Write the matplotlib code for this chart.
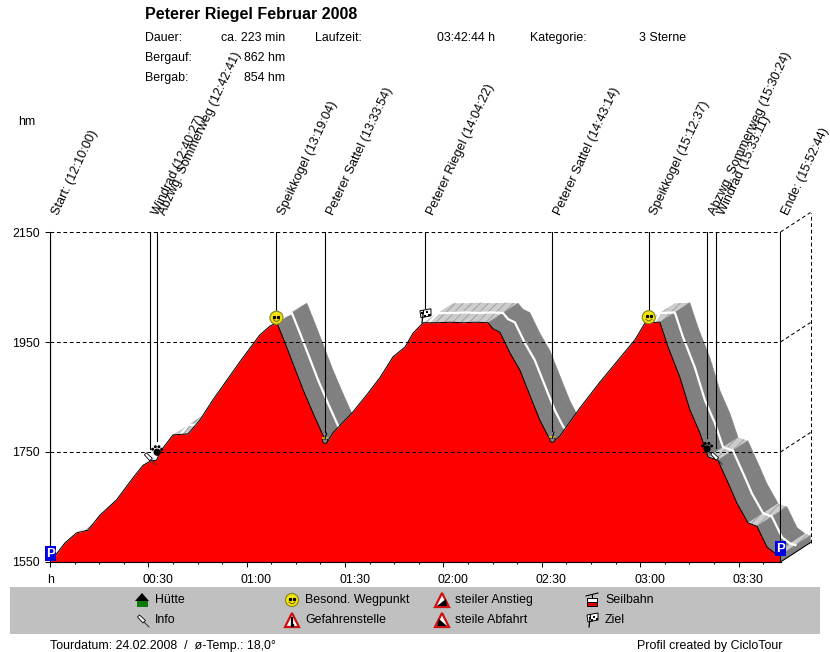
import matplotlib
matplotlib.use("Agg")
import matplotlib.pyplot as plt
import matplotlib.transforms as mtrans
from matplotlib.patches import Circle, Polygon, Rectangle

plt.rcParams['font.family'] = ['Liberation Sans', 'DejaVu Sans']
plt.rcParams['hatch.linewidth'] = 0.7

# ---- data ----
title = "Peterer Riegel Februar 2008"

# elevation profile: minutes since start, height in hm
profile_min = [0, 1.5, 4.6, 8.1, 11.6, 15.2, 20.3, 25.3, 28.4, 30.8, 32.5, 33.5, 37.5, 42.1, 45.7, 49.7,
               57.9, 64, 67.1, 69.2, 71.7, 73.7, 77.2, 80.2, 82.9, 84.4, 86.3, 92.4, 96.6, 100.6, 104.6,
               108.3, 110.7, 113.8, 118, 122, 126, 130, 133.6, 135.1, 137.2, 140.3, 143.3, 147.3, 149.4,
               151.9, 153.4, 155.5, 161.6, 167.7, 173.8, 178.4, 181.5, 186, 188.5, 192.1, 195.2, 198.2,
               200.7, 203.7, 207.4, 209.5, 212.9, 215.6, 218.7, 221.1, 222.8]
profile_hm = [1559, 1561, 1585, 1603, 1608, 1635, 1663, 1703, 1726, 1734, 1735, 1750, 1781, 1783, 1808, 1845,
              1914, 1963, 1979, 1985, 1948, 1917, 1863, 1821, 1785, 1766, 1785, 1823, 1854, 1885, 1923,
              1941, 1966, 1985, 1985, 1986, 1985, 1986, 1985, 1974, 1968, 1930, 1899, 1839, 1808,
              1779, 1768, 1779, 1830, 1877, 1921, 1954, 1985, 1986, 1941, 1886, 1826, 1785,
              1741, 1735, 1686, 1657, 1621, 1615, 1577, 1566, 1563]

# waypoints
way_names = ["Start:", "Windrad", "Abzwg. Sommerweg", "Speikkogel", "Peterer Sattel", "Peterer Riegel",
             "Peterer Sattel", "Speikkogel", "Abzwg. Sommerweg", "Windrad", "Ende:"]
way_clock = ["12:10:00", "12:40:27", "12:42:41", "13:19:04", "13:33:54", "14:04:22",
             "14:43:14", "15:12:37", "15:30:24", "15:33:11", "15:52:44"]
way_min = [0, 30.45, 32.68, 69.07, 83.9, 114.37, 153.23, 182.62, 200.4, 203.18, 222.73]
way_hm = [1559, 1734, 1735, 1985, 1766, 1985, 1768, 1986, 1741, 1735, 1563]
way_icon = ["park", "pin", "paw", "smile", "saddle", "flag", "saddle", "smile", "paw", "pin", "park"]

x_ticks = [0, 30, 60, 90, 120, 150, 180, 210]
x_labels = ["h", "00:30", "01:00", "01:30", "02:00", "02:30", "03:00", "03:30"]
y_ticks = [1550, 1750, 1950, 2150]

legend_names = ["Hütte", "Info", "Besond. Wegpunkt", "Gefahrenstelle",
                "steiler Anstieg", "steile Abfahrt", "Seilbahn", "Ziel"]
legend_icons = ["hut", "pin", "smile", "danger", "up", "down", "cable", "flag"]

W, H = 830, 652
fig = plt.figure(figsize=(W / 100, H / 100), dpi=100, facecolor='white')

# main plot, placed on the pixel box of the original
L, R, T, B = 50, 780.5, 232, 562
ax = fig.add_axes([L / W, 1 - B / H, (R - L) / W, (B - T) / H])
ax.set_xlim(0, 222.8)
ax.set_ylim(1550, 2150)
ax.patch.set_alpha(0)
for s in ['top', 'right']:
    ax.spines[s].set_visible(False)
for s in ['left', 'bottom']:
    ax.spines[s].set_linewidth(0.8)
    ax.spines[s].set_zorder(8)

# overlay in pixel coordinates for texts and icons
ov = fig.add_axes([0, 0, 1, 1], zorder=5)
ov.set_xlim(0, W)
ov.set_ylim(H, 0)
ov.axis('off')
ov.patch.set_alpha(0)

# depth of the 3D look, converted to data units
px_x = (R - L) / 222.8
px_y = (B - T) / 600
dx = 30 / px_x
dy = 19.5 / px_y

# ---- extruded band behind the profile ----
for i in range(len(profile_min) - 1):
    x0, x1 = profile_min[i], profile_min[i + 1]
    y0, y1 = profile_hm[i], profile_hm[i + 1]
    slope = (y1 - y0) * px_y / ((x1 - x0) * px_x)
    quad = [(x0, y0), (x1, y1), (x1 + dx, y1 + dy), (x0 + dx, y0 + dy)]
    if slope < -0.45:
        ax.add_patch(Polygon(quad, closed=True, fc='#808080', ec='#808080', lw=0.4, zorder=1, clip_on=False))
    else:
        # flat parts look striped in the original
        ax.add_patch(Polygon(quad, closed=True, fc='#cccccc', ec='#a0a0a0', lw=0, hatch='////',
                             zorder=1, clip_on=False))
# end face
ax.add_patch(Polygon([(profile_min[-1], 1550), (profile_min[-1] + dx, 1550 + dy),
                      (profile_min[-1] + dx, profile_hm[-1] + dy), (profile_min[-1], profile_hm[-1])],
                     closed=True, fc='#808080', ec='#808080', lw=0.4, zorder=1, clip_on=False))
# white middle line
ax.plot([m + dx / 2 for m in profile_min], [h + dy / 2 for h in profile_hm],
        color='white', lw=1.6, zorder=2, clip_on=False)

# ---- red profile ----
ax.fill_between(profile_min, profile_hm, 1550, color='#ff0000', lw=0, zorder=3)
ax.plot(profile_min, profile_hm, color='black', lw=0.7, zorder=4)

# ---- grid and side wall ----
dash = (0, (3.6, 2.6))
for y in y_ticks[1:]:
    ax.plot([0, 222.8], [y, y], color='black', lw=0.75, ls=dash, zorder=6)
    ax.plot([222.8, 222.8 + dx], [y, y + dy], color='black', lw=0.75, ls=dash, zorder=6, clip_on=False)
ax.plot([222.8 + dx] * 2, [1550 + dy, 2150 + dy], color='black', lw=0.75, ls=dash, zorder=6, clip_on=False)
ax.plot([222.8, 222.8 + dx], [1550, 1550 + dy], color='black', lw=0.75, zorder=6, clip_on=False)

# ---- axes ticks ----
ax.set_xticks(x_ticks)
ax.set_xticklabels(x_labels, fontsize=8.9)
ax.set_xticks([t * 7.5 for t in range(30) if t * 7.5 <= 222.8 and t % 4], minor=True)
ax.set_yticks(y_ticks)
ax.tick_params(axis='x', which='major', length=4.5 * 0.72, width=0.7, pad=5.5)
ax.tick_params(axis='x', which='minor', length=2.5 * 0.72, width=0.7)
ax.tick_params(axis='y', length=5 * 0.72, width=0.7, labelsize=8.9, pad=3.6)
shift = mtrans.ScaledTranslation(-6 / 100, 0, fig.dpi_scale_trans)
for lab in ax.get_xticklabels():
    lab.set_ha('left')
    lab.set_transform(lab.get_transform() + shift)
ax.get_xticklabels()[0].set_transform(ax.get_xticklabels()[0].get_transform()
                                      + mtrans.ScaledTranslation(3 / 100, 0, fig.dpi_scale_trans))


# ---- icons, drawn in pixel coordinates ----
def to_px(m, h):
    xd, yd = ax.transData.transform((m, h))
    return xd, H - yd


def icon_smile(x, y):
    ov.add_patch(Circle((x, y), 6.5, fc='#f6e60a', ec='#8a8a20', lw=0.9))
    ov.plot([x - 2, x + 2], [y - 1.2, y - 1.2], ls='none', marker='s', ms=1.3, color='black')
    ov.plot([x - 3, x - 1, x + 1, x + 3], [y + 2, y + 3.6, y + 3.6, y + 2], color='#706000', lw=0.7)


def icon_flag(x, y):
    ov.plot([x - 3, x - 1.5], [y + 7, y - 5], color='black', lw=0.9)
    ov.add_patch(Polygon([(x - 5, y - 5), (x + 6, y - 7), (x + 6, y), (x - 4, y + 2)], fc='white', ec='black', lw=0.7))
    for (a, b) in [(-3.5, -3.5), (1, -4.5), (-1, -1), (3.5, -2)]:
        ov.add_patch(Rectangle((x + a, y + b), 2.2, 2.2, fc='black', ec='none'))


def icon_paw(x, y):
    ov.add_patch(Circle((x, y + 1), 3.6, fc='black', ec='none'))
    for (a, b) in [(-4.5, -2), (-1.8, -4.5), (1.8, -4.5), (4.5, -2)]:
        ov.add_patch(Circle((x + a, y + b), 1.5, fc='black', ec='none'))


def icon_pin(x, y):
    ov.add_patch(Polygon([(x - 4.5, y - 3), (x - 2.5, y - 5), (x + 3.5, y + 0.5), (x + 1, y + 3)],
                         fc='white', ec='black', lw=0.6))
    ov.plot([x + 2, x + 7], [y + 2, y + 7], color='#303030', lw=0.7)


def icon_park(x, y):
    ov.add_patch(Rectangle((x - 5.5, y - 7.5), 11, 15, fc='#0000e0', ec='none'))
    ov.text(x, y + 0.2, "P", color='white', fontsize=9.5, fontweight='bold', ha='center', va='center')


def icon_saddle(x, y):
    ov.add_patch(Circle((x, y + 2.5), 2.6, fc='#808080', ec='black', lw=0.6))
    ov.plot([x - 2, x + 2], [y, y], color='#f0e000', lw=1.1)
    ov.plot([x, x + 1.5], [y + 1, y - 5], color='black', lw=0.8)


def icon_hut(x, y):
    ov.add_patch(Rectangle((x - 5.5, y), 11, 7, fc='#0a7a0a', ec='none'))
    ov.add_patch(Polygon([(x - 7, y + 1), (x, y - 7), (x + 7, y + 1)], fc='black', ec='none'))


def triangle(x, y):
    ov.add_patch(Polygon([(x - 7, y + 7), (x, y - 7), (x + 7, y + 7)], fc='white', ec='#d01010', lw=1.6, joinstyle='miter'))


def icon_danger(x, y):
    triangle(x, y)
    ov.plot([x, x], [y - 2.5, y + 2.5], color='black', lw=1.6)
    ov.plot([x], [y + 5], marker='s', ms=1.6, color='black')


def icon_up(x, y):
    triangle(x, y)
    ov.add_patch(Polygon([(x - 5, y + 6), (x + 5, y + 6), (x + 4, y - 1)], fc='black', ec='none'))


def icon_down(x, y):
    triangle(x, y)
    ov.add_patch(Polygon([(x - 5, y + 6), (x + 5, y + 6), (x - 3, y - 1)], fc='black', ec='none'))


def icon_cable(x, y):
    ov.plot([x - 6, x + 6], [y - 4, y - 7], color='black', lw=0.8)
    ov.plot([x, x], [y - 5.5, y - 2], color='black', lw=0.8)
    ov.add_patch(Rectangle((x - 5, y - 2), 10, 3.5, fc='white', ec='black', lw=0.7))
    ov.add_patch(Rectangle((x - 5, y + 1.5), 10, 4, fc='#e00000', ec='black', lw=0.7))


icons = {"smile": icon_smile, "flag": icon_flag, "paw": icon_paw, "pin": icon_pin, "park": icon_park,
         "saddle": icon_saddle, "hut": icon_hut, "danger": icon_danger, "up": icon_up, "down": icon_down,
         "cable": icon_cable}

# pixel offset of each icon against its point on the profile
icon_off = {"smile": (0, -5), "flag": (0, -7), "paw": (0, -9), "pin": (-1, -3), "saddle": (0, -5)}
line_gap = {"smile": 12, "flag": 15, "paw": 19, "pin": 12, "saddle": 11, "park": 0}

# ---- waypoint lines and rotated labels ----
for name, clock, m, h, ic in zip(way_names, way_clock, way_min, way_hm, way_icon):
    bottom = 1550 if ic == "park" else h + line_gap[ic] / px_y
    ax.plot([m, m], [bottom, 2150], color='black', lw=0.8, zorder=7)
    ax.annotate(f"{name} ({clock})", (m, 2150), xytext=(8, 16), textcoords='offset pixels',
                rotation=65, rotation_mode='anchor', ha='left', va='baseline', fontsize=9.2,
                annotation_clip=False)
    if ic == "park":
        continue
    x, y = to_px(m, h)
    ox, oy = icon_off[ic]
    icons[ic](x + ox, y + oy)

icon_park(50.5, 553.5)
icon_park(780.5, 548.5)

# ---- header texts ----
ov.text(145, 14, title, fontsize=11.5, fontweight='bold', va='center')
small = dict(fontsize=8.9, va='center')
ov.text(145, 38, "Dauer:", **small)
ov.text(285, 38, "ca. 223 min", ha='right', **small)
ov.text(315, 38, "Laufzeit:", **small)
ov.text(437, 38, "03:42:44 h", **small)
ov.text(530, 38, "Kategorie:", **small)
ov.text(639, 38, "3 Sterne", **small)
ov.text(145, 58, "Bergauf:", **small)
ov.text(285, 58, "862 hm", ha='right', **small)
ov.text(145, 78, "Bergab:", **small)
ov.text(285, 78, "854 hm", ha='right', **small)
ov.text(18, 122, "hm", **small)

# ---- legend panel ----
ov.add_patch(Rectangle((10, 587), 810, 47, fc='#c0c0c0', ec='none', zorder=0))
for i, (name, ic) in enumerate(zip(legend_names, legend_icons)):
    col = i // 2
    row = i % 2
    ix = 142 + col * 150
    iy = 600 + row * 20
    icons[ic](ix, iy)
    ov.text(ix + 13, iy, name, **small)

# ---- footer ----
ov.text(50, 646, "Tourdatum: 24.02.2008  /  ø-Temp.: 18,0°", **small)
ov.text(637, 646, "Profil created by CicloTour", **small)

fig.savefig("out.png", dpi=100)
